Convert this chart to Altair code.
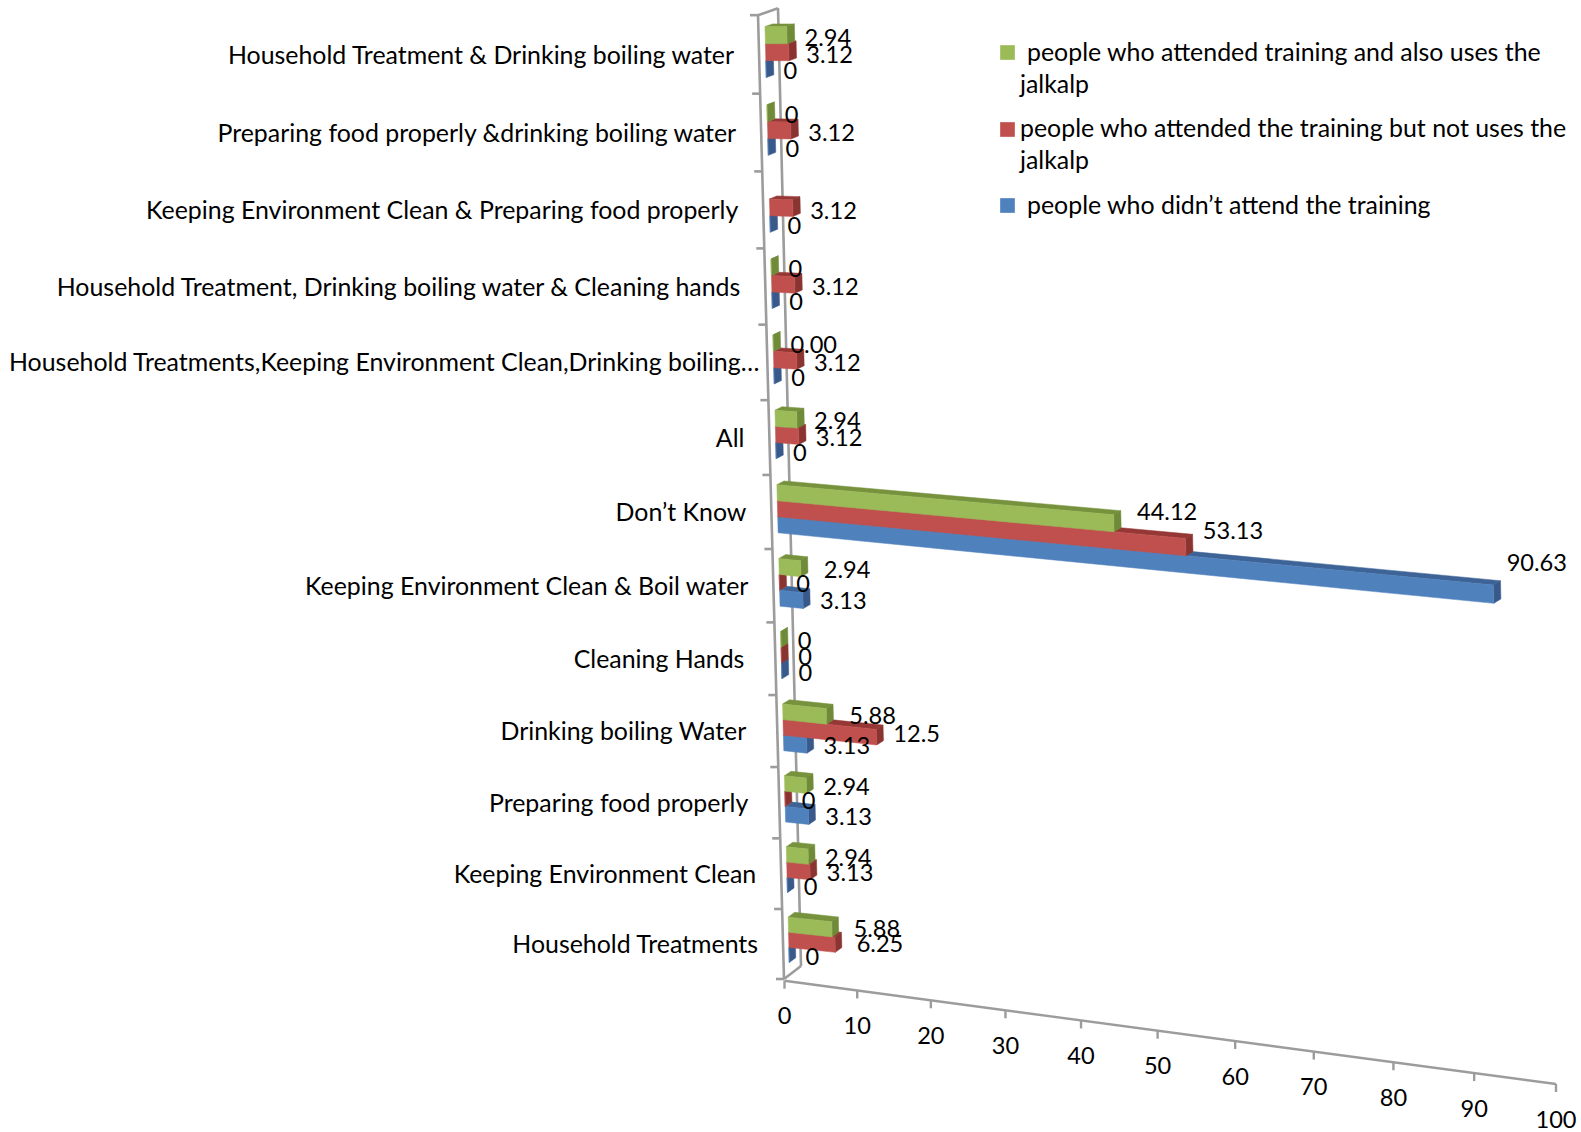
import altair as alt
import pandas as pd

# Categories listed from the top of the chart downwards
categories = [
    "Household Treatment & Drinking boiling water",
    "Preparing food properly &drinking boiling water",
    "Keeping Environment Clean & Preparing food properly",
    "Household Treatment, Drinking boiling water & Cleaning hands",
    "Household Treatments,Keeping Environment Clean,Drinking boiling…",
    "All",
    "Don’t Know",
    "Keeping Environment Clean & Boil water",
    "Cleaning Hands",
    "Drinking boiling Water",
    "Preparing food properly",
    "Keeping Environment Clean",
    "Household Treatments",
]
attended_uses = [2.94, 0, None, 0, 0, 2.94, 44.12, 2.94, 0, 5.88, 2.94, 2.94, 5.88]
attended_not_uses = [3.12, 3.12, 3.12, 3.12, 3.12, 3.12, 53.13, 0, 0, 12.5, 0, 3.13, 6.25]
not_attended = [0, 0, 0, 0, 0, 0, 90.63, 3.13, 0, 3.13, 3.13, 0, 0]
x_ticks = [0, 10, 20, 30, 40, 50, 60, 70, 80, 90, 100]
series_names = ["attended_uses", "attended_not_uses", "not_attended"]
legend_lines = [
    ["people who attended training and also uses the", "jalkalp"],
    ["people who attended the training but not uses the", "jalkalp"],
    ["people who didn’t attend the training"],
]

FONT = "Lato"
TEXT_SIZE = 24.9
NUMBER_SIZE = 23.6
AXIS_GREY = "#9c9c9c"
SHADES = {
    "front0": "#9bbb59", "top0": "#76923c", "side0": "#6f8a38",
    "front1": "#c0504d", "top1": "#953735", "side1": "#8a3432",
    "front2": "#4f81bd", "top2": "#3e6497", "side2": "#38598a",
}

# Oblique projection of the 3-D box onto the page
N = len(categories)
H = f"(69.67*datum.u/(1-0.00464*datum.u))"
WALL_X = f"(784-{H}*26/964)"
WALL_Y = f"(979-{H})"
DEPTH_X = "(17+3*datum.u/13)"
DEPTH_Y = "(-13+6*datum.u/13)"
RUN = "(7.4*datum.t/(1-0.000695*datum.t))"
X0 = f"({WALL_X}+{DEPTH_X}*datum.d)"
Y0 = f"({WALL_Y}+{DEPTH_Y}*datum.d)"
SLOPE = f"clamp(({Y0}-40)*0.0002,0,0.105)"
BAR_BAND = 0.217
FRONT_DEPTH, BACK_DEPTH = 0.33, 0.71

page_x = alt.X("px:Q", scale=alt.Scale(domain=[0, 1581], range=[0, 1581]), axis=None)
page_y = alt.Y("py:Q", scale=alt.Scale(domain=[0, 1132], range=[0, 1132]), axis=None)

FACES = {
    "top": [(0, 0, 0), (1, 0, 0), (1, 0, 1), (0, 0, 1)],
    "side": [(1, 0, 0), (1, 0, 1), (1, 1, 1), (1, 1, 0)],
    "front": [(0, 0, 0), (1, 0, 0), (1, 1, 0), (0, 1, 0)],
}
columns = [attended_uses, attended_not_uses, not_attended]

rows = []
for s, col in enumerate(columns):
    for c, value in enumerate(col):
        if value is None:
            continue
        for face, corners in FACES.items():
            for n, (along, lower, deep) in enumerate(corners):
                rows.append({
                    "category": categories[c], "series": series_names[s], "s": s,
                    "c": N - 1 - c, "value": value, "face": face,
                    "shade": f"{face}{s}", "n": n, "along": along,
                    "lower": lower, "deep": deep,
                })
bars = pd.DataFrame(rows)
bars["bar"] = bars["series"] + bars["category"] + bars["face"]


def bar_layer(s):
    return (
        alt.Chart(bars[bars.s == s])
        .transform_calculate(
            u=f"datum.c+1-0.175-(datum.s+datum.lower)*{BAR_BAND}",
            d=f"datum.deep?{BACK_DEPTH}:{FRONT_DEPTH}",
            t="datum.along*datum.value",
        )
        .transform_calculate(px=f"{X0}+{RUN}", py=f"{Y0}+{SLOPE}*{RUN}")
        .mark_line(strokeWidth=0.5, interpolate="linear-closed")
        .encode(
            x=page_x, y=page_y, order="n:Q", detail="bar:N",
            fill=alt.Fill("shade:N", scale=alt.Scale(domain=list(SHADES), range=list(SHADES.values())), legend=None),
            stroke=alt.Stroke("shade:N", scale=alt.Scale(domain=list(SHADES), range=list(SHADES.values())), legend=None),
        )
    )


# Data labels sit just beyond each bar's end, a few with a different gap
LABEL_TEXT = {(4, 0): "0.00"}
LABEL_GAP = {(6, 0): 16, (6, 2): 6, (7, 0): 16, (9, 0): 16, (12, 0): 15, (12, 1): 15}
label_rows = []
for s, col in enumerate(columns):
    for c, value in enumerate(col):
        if value is None:
            continue
        label_rows.append({
            "s": s, "c": N - 1 - c, "value": value,
            "text": LABEL_TEXT.get((c, s), str(value)),
            "gap": LABEL_GAP.get((c, s), 10),
        })
labels = (
    alt.Chart(pd.DataFrame(label_rows))
    .transform_calculate(
        u=f"datum.c+1-0.175-(datum.s+0.5)*{BAR_BAND}", d=f"{FRONT_DEPTH}", t="datum.value",
    )
    .transform_calculate(
        px=f"{X0}+{RUN}+{DEPTH_X}*{BACK_DEPTH-FRONT_DEPTH}+datum.gap",
        py=f"{Y0}+0.05*{RUN}+3",
    )
    .mark_text(font=FONT, fontSize=NUMBER_SIZE, align="left", baseline="middle", color="#000000")
    .encode(x=page_x, y=page_y, text="text:N")
)

# Category names to the left of the wall
NAME_GAP = {4: 8, 8: 31, 9: 31, 10: 31}
name_rows = [
    {"c": N - 1 - c, "name": name, "gap": NAME_GAP.get(c, 25)}
    for c, name in enumerate(categories)
]
names = (
    alt.Chart(pd.DataFrame(name_rows))
    .transform_calculate(u="datum.c+0.5")
    .transform_calculate(px=f"{WALL_X}-datum.gap", py=f"{WALL_Y}+2")
    .mark_text(font=FONT, fontSize=TEXT_SIZE, align="right", baseline="middle", color="#000000")
    .encode(x=page_x, y=page_y, text="name:N")
)

# Wall outline and its category ticks
wall_rows = []
for key, corners in {
    "front": [(0, 0), (N, 0)], "rear": [(0, 1), (N, 1)],
    "top": [(N, 0), (N, 1)], "floor": [(0, 0), (0, 1)],
}.items():
    for n, (u, d) in enumerate(corners):
        wall_rows.append({"key": key, "n": n, "u": u, "d": d, "off": 0})
for c in range(N + 1):
    wall_rows.append({"key": f"tick{c}", "n": 0, "u": c, "d": 0, "off": -8})
    wall_rows.append({"key": f"tick{c}", "n": 1, "u": c, "d": 0, "off": 0})
wall = (
    alt.Chart(pd.DataFrame(wall_rows))
    .transform_calculate(px=f"{X0}+datum.off", py=f"{Y0}")
    .mark_line(color=AXIS_GREY, strokeWidth=2.6)
    .encode(x=page_x, y=page_y, order="n:Q", detail="key:N")
)

# Value axis running along the floor
AXIS_RUN = "(7.225*datum.v/(1-0.000635*datum.v))"
AXIS_X = f"(784.5+{AXIS_RUN})"
AXIS_Y = f"(980.7+0.1339*{AXIS_RUN})"
axis_rows = [{"v": x_ticks[0], "n": 0, "key": "axis", "drop": 0}, {"v": x_ticks[-1], "n": 1, "key": "axis", "drop": 0}]
for v in x_ticks:
    axis_rows.append({"v": v, "n": 0, "key": f"t{v}", "drop": 0})
    axis_rows.append({"v": v, "n": 1, "key": f"t{v}", "drop": 8})
value_axis = (
    alt.Chart(pd.DataFrame(axis_rows))
    .transform_calculate(px=AXIS_X, py=f"{AXIS_Y}+datum.drop")
    .mark_line(color=AXIS_GREY, strokeWidth=2.4)
    .encode(x=page_x, y=page_y, order="n:Q", detail="key:N")
)
tick_labels = (
    alt.Chart(pd.DataFrame({"v": x_ticks}))
    .transform_calculate(px=AXIS_X, py=f"{AXIS_Y}+36.5", text="''+datum.v")
    .mark_text(font=FONT, fontSize=NUMBER_SIZE, align="center", baseline="middle", color="#000000")
    .encode(x=page_x, y=page_y, text="text:N")
)

# Hand-set legend: swatches and wrapped entries
LEGEND_SWATCH_Y = [52.5, 129.5, 205.5]
LEGEND_TEXT_Y = [53.5, 130, 206.5]
LEGEND_TEXT_X = [1027, 1020, 1027]
LEGEND_LINE_GAP = 32
swatch_df = pd.DataFrame({
    "px": [1007.5] * 3, "py": LEGEND_SWATCH_Y,
    "shade": ["front0", "front1", "front2"],
})
swatches = (
    alt.Chart(swatch_df)
    .mark_square(size=215, filled=True, opacity=1)
    .encode(
        x=page_x, y=page_y,
        color=alt.Color("shade:N", scale=alt.Scale(domain=list(SHADES), range=list(SHADES.values())), legend=None),
    )
)
legend_rows = []
for i, lines in enumerate(legend_lines):
    for j, line in enumerate(lines):
        legend_rows.append({
            "px": LEGEND_TEXT_X[i] if j == 0 else 1020,
            "py": LEGEND_TEXT_Y[i] + j * LEGEND_LINE_GAP,
            "text": line,
        })
legend_text = (
    alt.Chart(pd.DataFrame(legend_rows))
    .mark_text(font=FONT, fontSize=TEXT_SIZE, align="left", baseline="middle", color="#000000")
    .encode(x=page_x, y=page_y, text="text:N")
)

chart = (
    alt.layer(wall, value_axis, bar_layer(2), bar_layer(1), bar_layer(0),
              tick_labels, names, labels, swatches, legend_text)
    .properties(width=1581, height=1132, padding=0, autosize=alt.AutoSizeParams(type="none"), background="#ffffff")
    .configure_view(stroke=None)
)

chart.save("out.html", embed_options={"renderer": "svg", "actions": False})
